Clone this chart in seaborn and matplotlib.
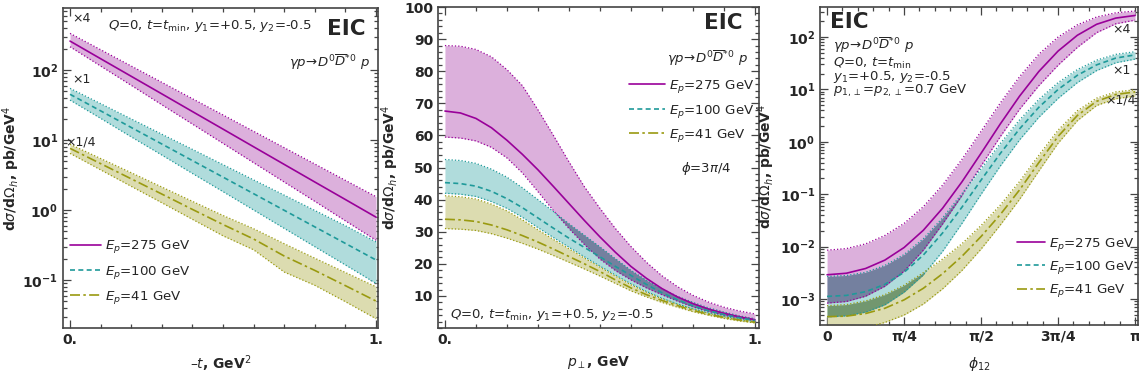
import numpy as np
import seaborn as sns
import matplotlib.pyplot as plt
from matplotlib.ticker import FixedLocator, FixedFormatter, LogLocator, NullFormatter, MultipleLocator

# ----- Data -----
labels = ["$E_p$=275 GeV", "$E_p$=100 GeV", "$E_p$=41 GeV"]

# panel 1: cross section vs -t (GeV^2), curves already scaled by x4, x1, x1/4
t_vals = [0.0, 0.1, 0.2, 0.3, 0.4, 0.5, 0.6, 0.7, 0.8, 0.9, 1.0]
t_mag_c = [259, 145, 81.3, 45.6, 25.5, 14.3, 8.0, 4.48, 2.51, 1.41, 0.79]
t_mag_hi = [334, 195, 114, 66.7, 38.9, 22.8, 13.3, 7.77, 4.54, 2.65, 1.55]
t_mag_lo = [215, 114, 60.4, 31.9, 16.9, 8.95, 4.74, 2.51, 1.33, 0.70, 0.37]
t_cy_c = [45.0, 26.1, 15.1, 8.77, 5.08, 2.95, 1.71, 0.99, 0.574, 0.333, 0.193]
t_cy_hi = [54.7, 33.1, 20.0, 12.1, 7.35, 4.44, 2.69, 1.63, 0.985, 0.596, 0.35]
t_cy_lo = [37.2, 20.4, 11.1, 6.10, 3.33, 1.83, 1.0, 0.547, 0.299, 0.164, 0.0895]
t_ye_c = [7.6, 4.6, 2.79, 1.69, 1.02, 0.62, 0.385, 0.22, 0.137, 0.083, 0.050]
t_ye_hi = [8.7, 5.44, 3.41, 2.13, 1.33, 0.835, 0.54, 0.33, 0.205, 0.128, 0.080]
t_ye_lo = [6.45, 3.75, 2.18, 1.27, 0.736, 0.428, 0.27, 0.13, 0.084, 0.049, 0.028]

# panel 2: cross section vs p_perp (GeV), phi = 3pi/4
p_vals = [0.0, 0.05, 0.1, 0.15, 0.2, 0.25, 0.3, 0.35, 0.4, 0.45, 0.5,
          0.55, 0.6, 0.65, 0.7, 0.75, 0.8, 0.85, 0.9, 0.95, 1.0]
p_mag_c = [67.6, 67.0, 65.3, 62.4, 58.5, 54.1, 49.3, 44.1, 38.8, 33.5, 28.4,
           23.6, 19.2, 15.5, 12.3, 9.7, 7.6, 5.9, 4.6, 3.5, 2.6]
p_mag_hi = [88.0, 87.8, 86.8, 84.5, 80.5, 75.5, 68.0, 60.0, 51.8, 44.0, 37.3,
            31.0, 25.4, 20.5, 16.3, 12.9, 10.2, 8.1, 6.5, 5.3, 4.4]
p_mag_lo = [59.5, 59.2, 58.3, 56.3, 53.0, 48.3, 42.5, 36.6, 31.0, 26.0, 21.5,
            17.9, 15.0, 12.5, 10.4, 8.4, 6.6, 5.2, 4.0, 3.1, 2.3]
p_cy_c = [45.3, 45.0, 44.2, 42.6, 40.3, 37.5, 34.3, 31.1, 28.0, 25.1, 22.2,
          19.2, 16.4, 13.6, 11.0, 8.8, 6.9, 5.4, 4.2, 3.2, 2.4]
p_cy_hi = [52.5, 52.2, 51.3, 49.5, 47.0, 43.7, 40.0, 36.3, 32.5, 28.9, 25.3,
           21.6, 18.0, 14.9, 12.2, 9.9, 8.0, 6.3, 5.0, 3.8, 2.9]
p_cy_lo = [42.0, 41.7, 41.0, 39.4, 37.3, 34.5, 31.3, 28.2, 25.2, 22.2, 19.3,
           16.5, 13.8, 11.4, 9.3, 7.5, 6.0, 4.7, 3.6, 2.7, 2.0]
p_ye_c = [33.9, 33.7, 33.2, 32.1, 30.6, 28.8, 26.8, 24.6, 22.3, 20.0, 17.6,
          15.0, 12.5, 10.4, 8.6, 7.0, 5.5, 4.3, 3.3, 2.5, 1.8]
p_ye_hi = [41.2, 40.9, 40.2, 38.6, 36.5, 33.7, 30.6, 27.6, 24.7, 21.8, 19.0,
           16.2, 13.5, 11.2, 9.1, 7.4, 5.9, 4.6, 3.5, 2.6, 1.95]
p_ye_lo = [31.0, 30.8, 30.4, 29.4, 28.0, 26.4, 24.6, 22.6, 20.5, 18.4, 16.2,
           13.9, 11.6, 9.7, 8.0, 6.5, 5.1, 4.0, 3.0, 2.2, 1.6]

# panel 3: cross section vs phi_12, in steps of pi/16
phi_steps = [0, 1, 2, 3, 4, 5, 6, 7, 8, 9, 10, 11, 12, 13, 14, 15, 16]
f_mag_c = [0.0029, 0.0031, 0.00382, 0.00552, 0.0096, 0.0205, 0.054, 0.171, 0.605,
           2.20, 7.45, 22.0, 54.0, 108, 175, 230, 258]
f_mag_hi = [0.00855, 0.00916, 0.01127, 0.0163, 0.0277, 0.0578, 0.149, 0.459, 1.59,
            5.52, 17.5, 47.0, 100, 171, 241, 290, 314]
f_mag_lo = [0.000836, 0.000895, 0.00113, 0.00175, 0.0034, 0.00855, 0.027, 0.0938, 0.348,
            1.26, 4.19, 11.8, 29.0, 63.4, 121, 179, 210]
f_cy_c = [0.00112, 0.00117, 0.00138, 0.0019, 0.00323, 0.0069, 0.0182, 0.0561, 0.186,
          0.601, 1.77, 4.56, 9.98, 18.6, 29.4, 39.7, 45.6]
f_cy_hi = [0.00269, 0.00281, 0.00323, 0.00436, 0.00706, 0.0141, 0.0354, 0.102, 0.308,
           0.931, 2.62, 6.44, 13.5, 23.9, 36.2, 46.7, 52.4]
f_cy_lo = [0.000456, 0.000478, 0.000561, 0.000774, 0.00135, 0.00288, 0.0081, 0.0275, 0.0998,
           0.346, 1.09, 2.94, 6.75, 13.5, 22.9, 32.3, 37.9]
f_ye_c = [0.00046, 0.000471, 0.000528, 0.000665, 0.000962, 0.0016, 0.00304, 0.0065, 0.0156,
          0.041, 0.121, 0.401, 1.27, 3.18, 5.93, 8.0, 8.97]
f_ye_hi = [0.000746, 0.000782, 0.000918, 0.00121, 0.00183, 0.00318, 0.00579, 0.0113, 0.0253,
           0.0621, 0.175, 0.553, 1.67, 3.92, 6.81, 8.97, 9.84]
f_ye_lo = [0.000247, 0.000253, 0.000284, 0.000357, 0.000493, 0.0008, 0.00156, 0.00349, 0.00897,
           0.0259, 0.08, 0.277, 0.94, 2.53, 4.93, 6.65, 7.46]

# ----- Style -----
LINE = ["#990099", "#1f9a9a", "#9a9a10"]
FILL = ["#dcb0dc", "#b0dcdc", "#dcdcb0"]
DASH = ["-", (0, (3, 2)), (0, (6, 2, 1.5, 2))]
DARK_MC = "#74809f"   # magenta/cyan overlap
DARK_CY = "#72976f"   # cyan/yellow overlap

sns.set_style("ticks")
plt.rcParams["font.family"] = ["DejaVu Sans"]
plt.rcParams["font.size"] = 9.5


def draw_panel(ax, x, bands, overlaps=True):
    x = np.asarray(x, dtype=float)
    arr = [[np.asarray(v, dtype=float) for v in b] for b in bands]
    for i in (2, 1, 0):
        lo, mid, hi = arr[i]
        ax.fill_between(x, lo, hi, color=FILL[i], lw=0, zorder=1)
    if overlaps:
        for (a, b, col) in ((0, 1, DARK_MC), (1, 2, DARK_CY)):
            bot = np.maximum(arr[a][0], arr[b][0])
            top = np.minimum(arr[a][2], arr[b][2])
            ax.fill_between(x, bot, top, where=bot < top, interpolate=True,
                            color=col, lw=0, zorder=2)
    for i in range(3):
        lo, mid, hi = arr[i]
        for edge in (lo, hi):
            ax.plot(x, edge, color=LINE[i], ls=":", lw=0.9, zorder=3)
    for i in range(3):
        sns.lineplot(x=x, y=arr[i][1], ax=ax, color=LINE[i], linestyle=DASH[i],
                     lw=1.2, label=labels[i], zorder=4)


def style_axes(ax):
    ax.tick_params(which="both", direction="in", top=True, right=True,
                   labelsize=10, width=0.9, color="#444444")
    ax.tick_params(which="major", length=6)
    ax.tick_params(which="minor", length=3)
    for lbl in ax.get_xticklabels() + ax.get_yticklabels():
        lbl.set_fontweight("bold")
    for s in ax.spines.values():
        s.set_color("#444444")
        s.set_linewidth(1.2)


def log_ticks(ax, exps):
    ax.yaxis.set_major_locator(FixedLocator([10.0 ** e for e in exps]))
    ax.yaxis.set_major_formatter(FixedFormatter([r"$\mathbf{10^{%d}}$" % e for e in exps]))
    ax.yaxis.set_minor_locator(LogLocator(base=10, subs=np.arange(2, 10)))
    ax.yaxis.set_minor_formatter(NullFormatter())


def add_legend(ax, x, y, hl, spacing):
    return ax.legend(loc="upper left", bbox_to_anchor=(x, y), frameon=False,
                     fontsize=9.6, handlelength=hl, handletextpad=0.3,
                     labelspacing=spacing, borderpad=0, borderaxespad=0)


ylab = r"d$\sigma$/d$\Omega_h$, pb/GeV$^4$"
reaction = r"$\gamma p\!\to\! D^0\overline{D}^{*0}\ p$"
kin = r"$Q$=0, $t$=$t_{\rm min}$, $y_1$=+0.5, $y_2$=-0.5"

fig = plt.figure(figsize=(11.39, 3.81), dpi=100)

# ----- Panel 1 -----
ax1 = fig.add_axes([0.0553, 0.139, 0.2766, 0.840])
draw_panel(ax1, t_vals, [(t_mag_lo, t_mag_c, t_mag_hi),
                         (t_cy_lo, t_cy_c, t_cy_hi),
                         (t_ye_lo, t_ye_c, t_ye_hi)], overlaps=False)
ax1.set_yscale("log")
ax1.set_xlim(-0.023, 1.0065)
ax1.set_ylim(0.0206, 769)
log_ticks(ax1, [-1, 0, 1, 2])
ax1.xaxis.set_major_locator(FixedLocator([0, 1]))
ax1.xaxis.set_major_formatter(FixedFormatter(["0.", "1."]))
ax1.xaxis.set_minor_locator(MultipleLocator(0.1))
ax1.set_xlabel(r"–$t$, GeV$^2$", fontweight="bold", fontsize=10, labelpad=5)
ax1.set_ylabel(ylab, fontweight="bold", fontsize=10, labelpad=0)
style_axes(ax1)
add_legend(ax1, 0.022, 0.28, 2.3, 0.62)
ax1.text(0.143, 0.944, kin, transform=ax1.transAxes, ha="left", va="center", fontsize=9.5)
ax1.text(0.898, 0.934, "EIC", transform=ax1.transAxes, ha="center", va="center",
         fontsize=15.5, fontweight="bold")
ax1.text(0.975, 0.831, reaction, transform=ax1.transAxes, ha="right", va="center", fontsize=9.5)
ax1.text(0.029, 0.966, "×4", transform=ax1.transAxes, ha="left", va="center", fontsize=9)
ax1.text(0.029, 0.778, "×1", transform=ax1.transAxes, ha="left", va="center", fontsize=9)
ax1.text(0.006, 0.581, "×1/4", transform=ax1.transAxes, ha="left", va="center", fontsize=9)

# ----- Panel 2 -----
ax2 = fig.add_axes([0.3845, 0.139, 0.2818, 0.8425])
draw_panel(ax2, p_vals, [(p_mag_lo, p_mag_c, p_mag_hi),
                         (p_cy_lo, p_cy_c, p_cy_hi),
                         (p_ye_lo, p_ye_c, p_ye_hi)])
ax2.set_xlim(-0.0226, 1.013)
ax2.set_ylim(0, 100)
ax2.yaxis.set_major_locator(FixedLocator(list(range(10, 101, 10))))
ax2.yaxis.set_minor_locator(MultipleLocator(2))
ax2.xaxis.set_major_locator(FixedLocator([0, 1]))
ax2.xaxis.set_major_formatter(FixedFormatter(["0.", "1."]))
ax2.xaxis.set_minor_locator(MultipleLocator(0.1))
ax2.set_xlabel(r"$p_\perp$, GeV", fontweight="bold", fontsize=10, labelpad=5)
ax2.set_ylabel(ylab, fontweight="bold", fontsize=10, labelpad=2)
style_axes(ax2)
add_legend(ax2, 0.595, 0.779, 2.7, 0.57)
ax2.text(0.888, 0.95, "EIC", transform=ax2.transAxes, ha="center", va="center",
         fontsize=15.5, fontweight="bold")
ax2.text(0.966, 0.841, reaction, transform=ax2.transAxes, ha="right", va="center", fontsize=9.5)
ax2.text(0.835, 0.498, r"$\phi$=3$\pi$/4", transform=ax2.transAxes,
         ha="center", va="center", fontsize=9.5)
ax2.text(0.037, 0.04, kin, transform=ax2.transAxes, ha="left", va="center", fontsize=9.5)

# ----- Panel 3 -----
phi12 = np.array(phi_steps) * np.pi / 16
ax3 = fig.add_axes([0.72, 0.147, 0.2792, 0.8346])
draw_panel(ax3, phi12, [(f_mag_lo, f_mag_c, f_mag_hi),
                        (f_cy_lo, f_cy_c, f_cy_hi),
                        (f_ye_lo, f_ye_c, f_ye_hi)])
ax3.set_yscale("log")
ax3.set_xlim(-0.0714, np.pi + 0.0306)
ax3.set_ylim(3.19e-4, 374)
log_ticks(ax3, [-3, -2, -1, 0, 1, 2])
ax3.xaxis.set_major_locator(FixedLocator([0, np.pi / 4, np.pi / 2, 3 * np.pi / 4, np.pi]))
ax3.xaxis.set_major_formatter(FixedFormatter(["0", "π/4", "π/2", "3π/4", "π"]))
ax3.xaxis.set_minor_locator(MultipleLocator(np.pi / 20))
ax3.set_xlabel(r"$\phi_{12}$", fontweight="bold", fontsize=10, labelpad=8)
ax3.set_ylabel(ylab, fontweight="bold", fontsize=10, labelpad=2)
style_axes(ax3)
add_legend(ax3, 0.62, 0.28, 2.1, 0.47)
ax3.text(0.031, 0.953, "EIC", transform=ax3.transAxes, ha="left", va="center",
         fontsize=15.5, fontweight="bold")
info = [reaction,
        r"$Q$=0, $t$=$t_{\rm min}$",
        r"$y_1$=+0.5, $y_2$=-0.5",
        r"$p_{1,\perp}$=$p_{2,\perp}$=0.7 GeV"]
for txt, yy in zip(info, [0.88, 0.824, 0.78, 0.736]):
    ax3.text(0.041, yy, txt, transform=ax3.transAxes, ha="left", va="center", fontsize=9.5)
ax3.text(0.918, 0.928, "×4", transform=ax3.transAxes, ha="left", va="center", fontsize=9)
ax3.text(0.918, 0.80, "×1", transform=ax3.transAxes, ha="left", va="center", fontsize=9)
ax3.text(0.896, 0.708, "×1/4", transform=ax3.transAxes, ha="left", va="center", fontsize=9)

fig.savefig("out.png", dpi=100)
